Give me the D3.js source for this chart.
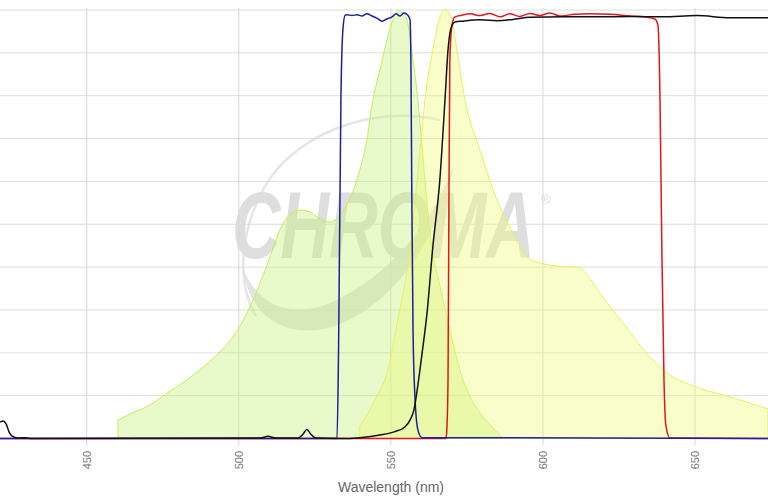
<!DOCTYPE html>
<html>
<head>
<meta charset="utf-8">
<script src="https://cdn.jsdelivr.net/npm/d3@7"></script>
<style>
  body { margin: 0; background: #fff; }
  #chart text { font-family: "Liberation Sans", Arial, sans-serif; }
</style>
</head>
<body>
<div id="chart"></div>
<script>
// spectra, [wavelength nm, transmission %]
const excitationSpectrum = [
  [460.3, 4.3], [465.2, 6.0], [470.8, 7.8], [476.4, 10.6], [482.0, 13.2], [487.2, 16.0],
  [492.8, 19.5], [498.1, 23.7], [502.7, 29.3], [507.0, 36.3], [510.3, 42.4], [513.5, 48.7],
  [516.8, 52.2], [520.1, 53.3], [523.4, 52.9], [525.7, 51.7], [530.0, 50.5], [533.3, 52.2],
  [536.6, 56.1], [539.8, 62.7], [542.1, 69.7], [544.1, 79.0], [546.4, 86.0], [548.7, 93.0],
  [550.7, 97.7], [552.3, 99.8], [554.0, 99.3], [555.3, 97.7], [557.3, 88.4], [558.9, 79.0],
  [561.2, 60.3], [562.9, 47.5], [566.1, 35.8], [569.4, 25.3], [573.7, 13.7], [577.6, 7.8],
  [582.6, 3.2], [586.8, 0.1]
];

const emissionSpectrum = [
  [539.8, 2.9], [544.8, 9.0], [549.0, 16.0], [552.3, 27.7], [556.3, 44.0], [559.6, 67.3],
  [561.2, 79.0], [563.8, 90.7], [566.1, 98.2], [567.8, 100.2], [570.1, 97.7], [571.7, 90.7],
  [574.4, 79.0], [579.3, 67.3], [584.9, 55.7], [590.1, 48.0], [594.7, 42.4], [599.0, 41.0],
  [605.6, 40.2], [611.5, 40.0], [615.4, 37.4], [618.7, 34.0], [626.3, 27.0], [635.2, 19.0],
  [640.8, 15.3], [650.6, 12.0], [662.5, 9.5], [674.0, 6.9]
];

const excitationFilter = [
  [421.5, 0], [532.3, 0], [532.8, 20], [533.6, 80], [534.3, 96], [535.0, 98.8],
  [535.6, 98.9], [537.2, 98.7], [538.9, 98.9], [540.5, 98.6], [542.1, 99.1], [543.8, 98.6],
  [545.4, 98.1], [547.1, 97.4], [548.7, 97.9], [550.4, 98.4], [551.7, 99.1], [553.0, 98.6],
  [554.3, 99.3], [555.6, 98.8], [556.3, 97.7], [556.6, 88], [556.9, 55.7], [557.3, 25],
  [557.9, 10], [558.9, 2], [560.2, 0.2], [674, 0]
];

const dichroicMirror = [
  [421.5, 3.85], [422.5, 4.1], [423.5, 3.4], [424.5, 1.5], [425.4, 0.6], [427.4, 0.1],
  [429.7, 0.2], [431.4, 0], [507.0, 0.1], [509.6, 0.5], [512.2, 0.1], [519.5, 0.1],
  [521.1, 1.0], [522.4, 2.1], [523.7, 1.0], [525.4, 0.1], [533.3, 0], [539.8, 0.2],
  [546.4, 0.8], [551.3, 1.6], [554.6, 2.7], [556.3, 4.3], [557.6, 6.7], [558.9, 12.5],
  [560.2, 19.5], [561.9, 29.3], [563.8, 44.7], [566.1, 60.3], [567.8, 79.0], [568.8, 90.7],
  [569.8, 95.8], [571.1, 97.2], [573.7, 97.4], [579.3, 97.7], [584.9, 97.5], [590.1, 97.8],
  [595.7, 98.3], [606.6, 98.4], [617.8, 98.4], [628.6, 98.5], [639.4, 98.4], [650.6, 98.7],
  [661.5, 98.2], [674, 98.2]
];

const emissionFilter = [
  [421.5, 0], [568.1, 0], [568.4, 2], [568.8, 13.7], [569.1, 55.7], [569.4, 88.4],
  [570.1, 96.5], [571.1, 98.4], [573.4, 98.8], [576.0, 99.1], [579.3, 98.7], [582.6, 99.2],
  [585.9, 98.4], [589.1, 99.1], [592.4, 98.5], [595.7, 99.2], [599.0, 98.7], [602.3, 99.3],
  [605.6, 98.6], [610.5, 99.0], [615.5, 99.1], [622.0, 99.0], [628.6, 98.6], [633.5, 98.4],
  [636.8, 97.9], [637.8, 96.5], [638.5, 79], [639.1, 44], [639.8, 13.7], [640.4, 3.2],
  [641.8, 0.1], [674, 0]
];

const xTicks = [450, 500, 550, 600, 650];
const yTicks = [0, 10, 20, 30, 40, 50, 60, 70, 80, 90, 100];

class SpectraChart {
  constructor() {
    this.svgWidth = 768;
    this.svgHeight = 501;
    this.svg = d3.select("#chart").append("svg")
      .attr("width", this.svgWidth)
      .attr("height", this.svgHeight);

    // plot starts off the left edge of the picture, y axis is not visible
    this.x = d3.scaleLinear().domain([421.5, 674]).range([0, 768]);
    this.y = d3.scaleLinear().domain([0, 100]).range([438.5, 10]);
  }

  drawWatermark() {
    let g = this.svg.append("g").attr("class", "watermark");
    g.append("path")
      .attr("d", "M 440,120 C 365,104 292,138 264,188 C 240,232 236,282 256,316")
      .attr("fill", "none")
      .attr("stroke", "#e6e6e6")
      .attr("stroke-width", 2.5);
    g.append("path")
      .attr("d", "M 243,268 C 250,322 292,340 335,326 C 385,308 436,252 454,165 C 428,236 378,282 328,304 C 290,318 258,306 243,268 Z")
      .attr("fill", "#dcdcdc")
      .attr("opacity", 0.8);
    let logo = g.append("text")
      .attr("font-size", 95)
      .attr("font-weight", "bold")
      .attr("font-style", "italic")
      .attr("fill", "#dedede")
      .text("CHROMA");
    // squeeze the word into the width it has in the picture
    let w = logo.node().getComputedTextLength();
    logo.attr("transform", "translate(232,258) scale(" + (303 / w) + ",1)");
    g.append("text")
      .attr("x", 541)
      .attr("y", 204)
      .attr("font-size", 13)
      .attr("fill", "#dedede")
      .text("®");
  }

  drawGrid() {
    let x = this.x, y = this.y;
    this.svg.append("g").selectAll("line.h")
      .data(yTicks.slice(1))
      .enter().append("line")
      .attr("class", "h")
      .attr("x1", 0).attr("x2", this.svgWidth)
      .attr("y1", d => y(d)).attr("y2", d => y(d))
      .attr("stroke", "#dedede");
    this.svg.append("g").selectAll("line.v")
      .data(xTicks)
      .enter().append("line")
      .attr("class", "v")
      .attr("x1", d => x(d)).attr("x2", d => x(d))
      .attr("y1", y(100) - 2).attr("y2", y(0) + 7)
      .attr("stroke", "#d8d8d8");
  }

  drawSpectra() {
    let x = this.x, y = this.y;
    let area = d3.area()
      .x(d => x(d[0]))
      .y0(y(0))
      .y1(d => y(d[1]))
      .curve(d3.curveMonotoneX);
    let line = d3.line()
      .x(d => x(d[0]))
      .y(d => y(d[1]))
      .curve(d3.curveMonotoneX);

    this.svg.append("path").datum(excitationSpectrum)
      .attr("d", area)
      .attr("fill", "#c6ef7a").attr("fill-opacity", 0.4)
      .attr("stroke", "#c8ee55").attr("stroke-width", 1);
    this.svg.append("path").datum(emissionSpectrum)
      .attr("d", area)
      .attr("fill", "#eefa78").attr("fill-opacity", 0.4)
      .attr("stroke", "#e4f35c").attr("stroke-width", 1);

    this.svg.append("path").datum(emissionFilter)
      .attr("d", line).attr("fill", "none")
      .attr("stroke", "#e0161a").attr("stroke-width", 1.5);
    this.svg.append("path").datum(excitationFilter)
      .attr("d", line).attr("fill", "none")
      .attr("stroke", "#1c1fa0").attr("stroke-width", 1.5);
    this.svg.append("path").datum(dichroicMirror)
      .attr("d", line).attr("fill", "none")
      .attr("stroke", "#111").attr("stroke-width", 1.5);
  }

  drawAxis() {
    let x = this.x;
    this.svg.append("g").selectAll("text.tick")
      .data(xTicks)
      .enter().append("text")
      .attr("class", "tick")
      .attr("transform", d => "translate(" + x(d) + ",451) rotate(-90)")
      .attr("text-anchor", "end")
      .attr("dy", "0.35em")
      .attr("font-size", 11)
      .attr("fill", "#777")
      .text(d => d);
    this.svg.append("text")
      .attr("x", 391)
      .attr("y", 492)
      .attr("text-anchor", "middle")
      .attr("font-size", 14)
      .attr("fill", "#666")
      .text("Wavelength (nm)");
  }
}

let chart = new SpectraChart();
chart.drawWatermark();
chart.drawGrid();
chart.drawSpectra();
chart.drawAxis();
</script>
</body>
</html>
